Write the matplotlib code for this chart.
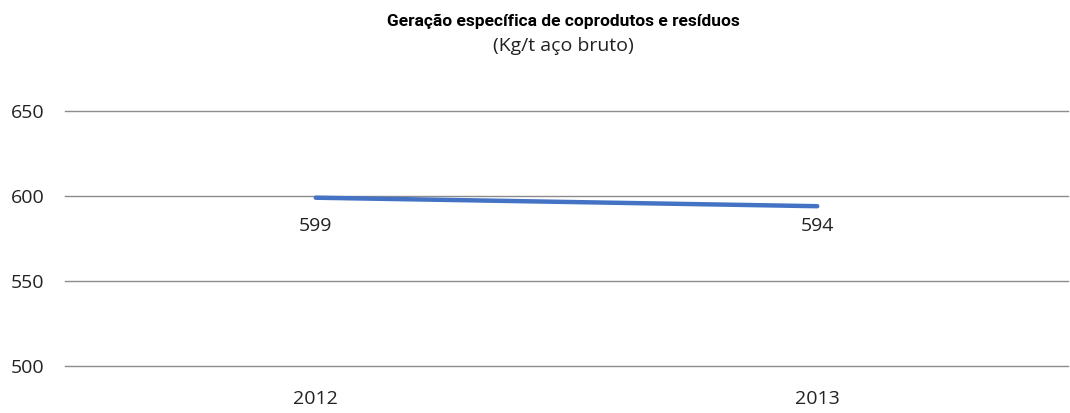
import matplotlib.pyplot as plt
import matplotlib.transforms as mtransforms

plt.rcParams['font.family'] = ['Open Sans', 'DejaVu Sans']

years = ['2012', '2013']
values = [599, 594]
yticks = [500, 550, 600, 650]

fig = plt.figure(figsize=(10.70, 4.13), dpi=100)
ax = fig.add_axes([65 / 1070, 1 - 366 / 413, 1003 / 1070, 255 / 413])

x = range(len(years))
ax.plot(x, values, color='#4472c4', lw=3.2, solid_capstyle='round', zorder=3)

# data labels sit on one row below the line
trans = mtransforms.blended_transform_factory(ax.transData, ax.transAxes)
for xi, v in zip(x, values):
    ax.text(xi, 0.549, str(v), transform=trans, ha='center', va='center',
            fontsize=14, color='#222222')

ax.set_xlim(-0.5, 1.5)
ax.set_ylim(500, 650)
ax.set_yticks(yticks)
ax.set_xticks(list(x))
ax.set_xticklabels(years)
ax.grid(axis='y', color='#8c8c8c', lw=1)
for gl in ax.get_ygridlines():
    gl.set_clip_on(False)
ax.set_axisbelow(True)
for s in ax.spines.values():
    s.set_visible(False)
ax.tick_params(length=0, labelsize=14, labelcolor='#222222')
ax.tick_params(axis='y', pad=15)
ax.tick_params(axis='x', pad=17)

fig.text(563 / 1070, 1 - 21 / 413, 'Geração específica de coprodutos e resíduos',
         ha='center', va='center', fontsize=12.5, fontweight='bold', color='black',
         family=['Roboto', 'DejaVu Sans'])
fig.text(563 / 1070, 1 - 46 / 413, '(Kg/t aço bruto)',
         ha='center', va='center', fontsize=14, color='#222222')

fig.savefig('out.png', dpi=100)
